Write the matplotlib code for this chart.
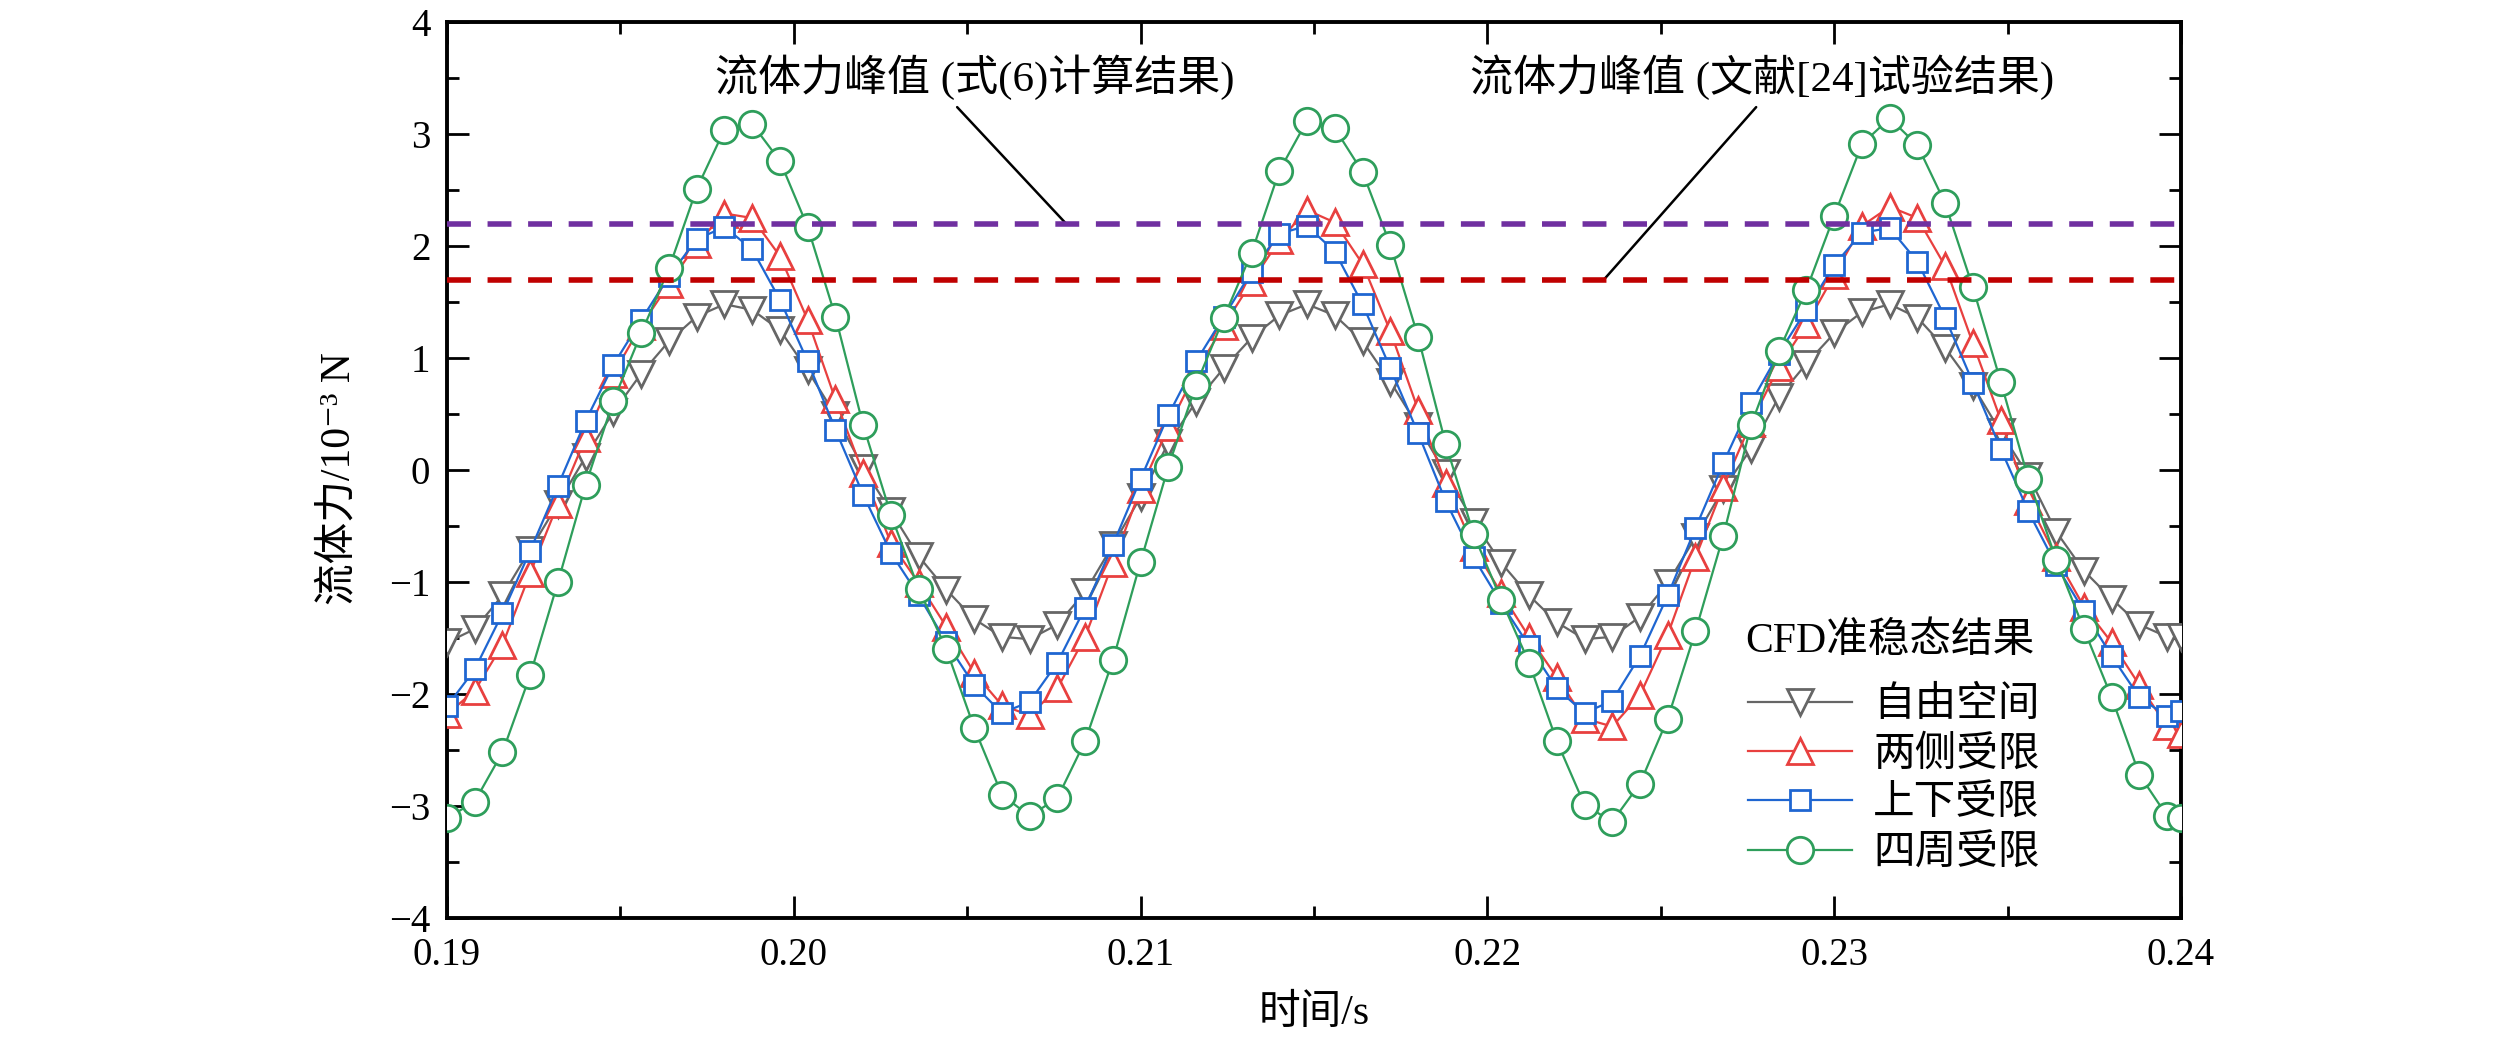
import numpy as np
import matplotlib
matplotlib.use('Agg')
import matplotlib.pyplot as plt
from matplotlib.ticker import MultipleLocator

plt.rcParams['font.family'] = ['Liberation Serif', 'Noto Sans CJK SC', 'DejaVu Serif']
plt.rcParams['axes.unicode_minus'] = True

# time grid (s): samples every 0.8 ms, last one at 0.24
t = list(np.round(np.arange(0.19, 0.2397, 0.0008), 4)) + [0.24]

# fluid force, 10^-3 N
free_space = [-1.54, -1.42, -1.12, -0.71, -0.30, 0.12, 0.52, 0.86, 1.15, 1.37, 1.48, 1.43, 1.25, 0.89, 0.49, 0.02,
              -0.37, -0.77, -1.07, -1.33, -1.49, -1.51, -1.38, -1.09, -0.67, -0.24, 0.24, 0.61, 0.91, 1.18, 1.38,
              1.48, 1.38, 1.15, 0.79, 0.39, -0.03, -0.46, -0.83, -1.12, -1.36, -1.51, -1.49, -1.31, -1.01, -0.60,
              -0.17, 0.19, 0.65, 0.95, 1.22, 1.41, 1.48, 1.36, 1.09, 0.75, 0.34, -0.05, -0.55, -0.90, -1.15, -1.38, -1.49, -1.49]
two_sides = [-2.18, -1.97, -1.56, -0.92, -0.30, 0.29, 0.86, 1.29, 1.66, 2.02, 2.29, 2.25, 1.91, 1.34, 0.63, -0.03,
             -0.65, -1.01, -1.40, -1.81, -2.10, -2.19, -1.95, -1.49, -0.83, -0.17, 0.38, 0.88, 1.29, 1.68, 2.05,
             2.32, 2.21, 1.84, 1.24, 0.54, -0.12, -0.69, -1.10, -1.49, -1.85, -2.22, -2.29, -2.01, -1.47, -0.78,
             -0.15, 0.42, 0.92, 1.30, 1.74, 2.18, 2.35, 2.25, 1.82, 1.13, 0.45, -0.28, -0.78, -1.22, -1.54, -1.92, -2.29, -2.36]
top_bottom = [-2.11, -1.78, -1.28, -0.72, -0.14, 0.44, 0.94, 1.34, 1.73, 2.06, 2.17, 1.97, 1.52, 0.97, 0.36, -0.22,
              -0.74, -1.12, -1.54, -1.92, -2.17, -2.07, -1.72, -1.23, -0.67, -0.08, 0.49, 0.97, 1.37, 1.77, 2.11,
              2.18, 1.95, 1.48, 0.91, 0.33, -0.28, -0.78, -1.19, -1.57, -1.95, -2.17, -2.06, -1.66, -1.12, -0.52,
              0.06, 0.60, 1.04, 1.43, 1.83, 2.12, 2.16, 1.86, 1.36, 0.78, 0.19, -0.37, -0.85, -1.26, -1.66, -2.03, -2.20, -2.15]
all_around = [-3.11, -2.96, -2.52, -1.83, -1.00, -0.13, 0.62, 1.22, 1.80, 2.51, 3.04, 3.09, 2.76, 2.17, 1.37, 0.40,
              -0.40, -1.06, -1.60, -2.30, -2.90, -3.09, -2.93, -2.42, -1.70, -0.82, 0.03, 0.76, 1.36, 1.94, 2.67,
              3.12, 3.05, 2.66, 2.01, 1.19, 0.23, -0.57, -1.16, -1.72, -2.42, -2.99, -3.14, -2.80, -2.22, -1.44,
              -0.59, 0.40, 1.06, 1.61, 2.27, 2.91, 3.14, 2.90, 2.38, 1.63, 0.79, -0.08, -0.80, -1.42, -2.03, -2.72, -3.09, -3.11]

labels = ['自由空间', '两侧受限', '上下受限', '四周受限']
peak_eq6 = 2.2      # 式(6)计算结果
peak_ref24 = 1.7    # 文献[24]试验结果

fig = plt.figure(figsize=(25.2, 10.47), dpi=100)
ax = fig.add_axes([447 / 2520, 129 / 1047, 1734 / 2520, 896 / 1047])

series = [
    (free_space, '#666666', 'v', 19),
    (two_sides, '#E8403F', '^', 19),
    (top_bottom, '#1F66D1', 's', 15),
    (all_around, '#2E9E5B', 'o', 19),
]
for (vals, col, mk, ms), lab in zip(series, labels):
    ax.plot(t, vals, color=col, lw=1.6, marker=mk, ms=ms, mfc='white',
            mec=col, mew=2.0, label=lab, zorder=3)

ax.axhline(peak_eq6, color='#7030A0', lw=4, ls=(0, (4.3, 3.0)), zorder=4)
ax.axhline(peak_ref24, color='#C00000', lw=4, ls=(0, (4.3, 3.0)), zorder=4)

# leader lines + labels of the two peak lines
ax.annotate('', xy=(0.20785, peak_eq6), xytext=(0.20471, 3.24),
            arrowprops=dict(arrowstyle='-', color='black', lw=1.8, shrinkA=0, shrinkB=0))
ax.annotate('', xy=(0.22336, peak_ref24), xytext=(0.22775, 3.24),
            arrowprops=dict(arrowstyle='-', color='black', lw=1.8, shrinkA=0, shrinkB=0))
ax.text(0.20523, 3.51, '流体力峰值 (式(6)计算结果)', fontsize=31, ha='center', va='center')
ax.text(0.22792, 3.51, '流体力峰值 (文献[24]试验结果)', fontsize=31, ha='center', va='center')

ax.set_xlim(0.19, 0.24)
ax.set_ylim(-4, 4)
ax.xaxis.set_major_locator(MultipleLocator(0.01))
ax.xaxis.set_minor_locator(MultipleLocator(0.005))
ax.yaxis.set_major_locator(MultipleLocator(1))
ax.yaxis.set_minor_locator(MultipleLocator(0.5))
ax.set_xticks([0.19, 0.20, 0.21, 0.22, 0.23, 0.24])
ax.set_xticklabels(['0.19', '0.20', '0.21', '0.22', '0.23', '0.24'])

ax.tick_params(which='both', direction='in', top=True, right=True, width=2.0)
ax.tick_params(which='major', length=16)
ax.tick_params(which='minor', length=8.5)
ax.tick_params(axis='x', labelsize=28, pad=14)
ax.tick_params(axis='y', labelsize=28, pad=12)
for sp in ax.spines.values():
    sp.set_linewidth(2.8)

ax.set_xlabel('时间/s', fontsize=30)
ax.set_ylabel('流体力/10⁻³ N', fontsize=30)
ax.xaxis.set_label_coords(0.5, -0.085)
ax.yaxis.set_label_coords(-0.051, 0.49)

leg = ax.legend(loc='center left', bbox_to_anchor=(0.7503, 0.154), frameon=False,
                fontsize=30, handlelength=2.5, handletextpad=0.5, labelspacing=0.26,
                borderpad=0, borderaxespad=0)
ax.text(0.7486, (918 - 642) / 896, 'CFD准稳态结果', transform=ax.transAxes,
        fontsize=30, ha='left', va='center')

fig.savefig('out.png', dpi=100)
